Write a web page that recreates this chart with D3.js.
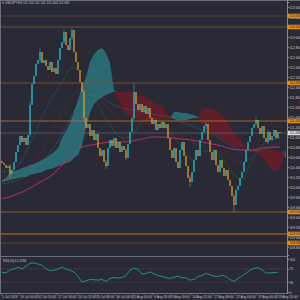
<!DOCTYPE html>
<html>
<head>
<meta charset="utf-8">
<script src="https://cdnjs.cloudflare.com/ajax/libs/d3/7.8.5/d3.min.js"></script>
<style>
body { margin: 0; background: #2a2a36; }
svg { display: block; }
text { font-family: "Liberation Sans", "DejaVu Sans", sans-serif; }
</style>
</head>
<body>
<div id="chart"></div>
<script>
// USDJPY H4 closes
const closes = [
	110.48, 110.44, 110.38, 110.42, 110.26, 110.34, 110.50, 110.70, 110.84, 111.02,
	110.90, 110.98, 110.84, 111.04, 111.64, 112.06, 112.22, 112.46, 112.54, 112.70,
	112.48, 112.54, 112.42, 112.34, 112.50, 112.30, 112.38, 112.26, 112.54, 112.78,
	112.90, 113.10, 112.84, 112.74, 112.98, 113.14, 112.70, 112.50, 112.34, 112.10,
	111.90, 111.38, 111.18, 111.26, 111.02, 111.14, 110.94, 111.06, 110.78, 110.62,
	110.74, 110.50, 110.42, 110.78, 110.94, 110.82, 110.98, 110.78, 110.90, 110.70,
	110.82, 110.74, 110.58, 110.86, 111.10, 111.38, 111.90, 111.66, 111.54, 111.66,
	111.50, 111.62, 111.46, 111.58, 111.38, 111.26, 111.34, 111.14, 111.26, 111.18,
	111.30, 111.18, 111.26, 110.98, 110.74, 110.58, 110.78, 110.50, 110.38, 110.74,
	110.90, 110.62, 110.42, 110.18, 110.10, 110.30, 110.54, 110.74, 110.62, 110.94,
	111.10, 111.22, 111.26, 110.94, 110.70, 110.54, 110.74, 110.44, 110.30, 110.54,
	110.38, 110.22, 110.34, 110.14, 110.02, 109.82, 109.64, 109.94, 110.02, 110.18,
	110.30, 110.50, 110.74, 110.90, 111.02, 111.18, 111.26, 111.34, 111.18, 111.06,
	111.22, 110.98, 110.90, 111.10, 110.94, 111.02, 111.14, 110.98, 111.10, 111.08
];
const firstOpen = 110.52;

// candles with visible wicks: [candle, high, low]
const wicks = [
	[4, 110.46, 110.18], [14, 111.70, 111.00], [19, 112.78, 112.50], [31, 113.16, 112.86],
	[35, 113.18, 112.94], [41, 111.96, 111.30], [52, 110.54, 110.36], [62, 110.78, 110.54],
	[66, 112.08, 111.34], [94, 110.24, 110.00], [102, 111.30, 111.16], [116, 109.86, 109.50],
	[127, 111.40, 111.22], [133, 111.14, 110.86]
];

// ichimoku cloud, one point every second candle (candle 0 .. 142)
const spanA = [
	110.14, 110.18, 110.30, 110.32, 110.34, 110.38, 110.40, 110.44, 110.46, 110.50,
	110.54, 110.58, 110.64, 110.70, 110.78, 110.98, 111.12, 111.28, 111.50, 111.74,
	112.00, 112.20, 112.50, 112.66, 112.74, 112.78, 112.68, 112.48, 111.94, 111.74,
	111.58, 111.46, 111.40, 111.36, 111.34, 111.34, 111.32, 111.30, 111.30, 111.30,
	111.30, 111.32, 111.38, 111.50, 111.50, 111.48, 111.48, 111.46, 111.44, 111.40,
	111.24, 111.18, 111.12, 111.06, 111.00, 110.96, 110.92, 110.86, 110.82, 110.80,
	110.78, 110.76, 110.74, 110.72, 110.68, 110.60, 110.50, 110.40, 110.30, 110.34,
	110.50, 110.74
];
const spanB = [
	110.10, 110.12, 110.14, 110.16, 110.18, 110.20, 110.20, 110.24, 110.26, 110.28,
	110.30, 110.34, 110.36, 110.38, 110.42, 110.44, 110.48, 110.50, 110.58, 110.64,
	110.84, 111.18, 111.48, 111.66, 111.74, 111.80, 111.84, 111.88, 111.90, 111.90,
	111.90, 111.90, 111.90, 111.88, 111.84, 111.82, 111.80, 111.74, 111.68, 111.64,
	111.60, 111.50, 111.40, 111.36, 111.34, 111.34, 111.34, 111.36, 111.38, 111.38,
	111.54, 111.58, 111.58, 111.54, 111.50, 111.42, 111.34, 111.22, 111.10, 111.00,
	110.90, 110.82, 110.76, 110.74, 110.74, 110.74, 110.74, 110.74, 110.74, 110.72,
	110.70, 110.58
];

// moving averages, sampled at these candles
const maIdx = [0, 5, 10, 15, 20, 25, 30, 35, 40, 45, 50, 55, 60, 65, 70, 75, 80, 85, 90, 95, 100, 105, 110, 115, 120, 125, 130, 135, 139];
const maFast = [110.30, 110.34, 110.54, 110.94, 111.38, 111.78, 112.10, 112.38, 112.30, 111.90, 111.50, 111.18, 110.98, 111.04, 111.30, 111.38, 111.26, 111.04, 110.78, 110.54, 110.70, 110.74, 110.58, 110.30, 110.14, 110.54, 110.84, 110.94, 110.98];
const maMid = [110.18, 110.22, 110.30, 110.44, 110.74, 111.14, 111.50, 111.80, 111.98, 111.90, 111.70, 111.50, 111.30, 111.24, 111.26, 111.26, 111.22, 111.14, 111.02, 110.90, 110.82, 110.78, 110.70, 110.58, 110.50, 110.58, 110.74, 110.84, 110.88];
const maSlow = [110.06, 110.10, 110.18, 110.30, 110.50, 110.74, 111.04, 111.44, 111.74, 111.84, 111.78, 111.66, 111.58, 111.54, 111.50, 111.46, 111.42, 111.38, 111.30, 111.22, 111.14, 111.06, 110.94, 110.82, 110.74, 110.72, 110.74, 110.78, 110.80];
const maLong = [109.76, 109.82, 109.90, 110.00, 110.12, 110.24, 110.44, 110.62, 110.80, 110.84, 110.88, 110.90, 110.90, 110.92, 110.96, 111.00, 111.00, 110.98, 110.96, 110.94, 110.90, 110.86, 110.82, 110.76, 110.74, 110.74, 110.78, 110.80, 110.80];

// RSI(14), every second candle
const rsi = [
	59, 58, 66.7, 70, 75, 70, 78, 87, 88, 85,
	82, 70, 64.5, 66, 70, 75, 70, 66, 60, 48,
	30, 34, 38, 37, 36, 38, 32, 41, 44, 42,
	44, 50, 66, 72, 69, 54, 56, 61, 55, 50,
	47, 44, 41, 45, 48, 43, 43, 36, 38, 47,
	50, 57, 52, 48, 47, 51, 47, 38, 32, 41,
	49, 57, 66, 72, 74, 67, 57, 58, 59, 60
];

// horizontal levels and last price
const levels = [113.42, 113.20, 112.08, 111.32, 109.50, 109.06, 108.88];
const lastPrice = 111.08;

const priceTicks = [113.6, 113.4, 113.2, 113.0, 112.8, 112.6, 112.4, 112.2, 112.0, 111.8, 111.6, 111.4, 111.2, 111.0, 110.8, 110.6, 110.4, 110.2, 110.0, 109.8, 109.6, 109.4, 109.2, 109.0, 108.8];
const rsiTicks = [100, 70, 30, 0];

const timeIdx = [0, 9, 18, 28, 38, 47, 57, 66, 76, 85, 95, 106, 117, 128, 138];
const timeLabels = ["5 Jul 2018", "10 Jul 00:00", "12 Jul 20:00", "17 Jul 16:00", "20 Jul 12:00", "25 Jul 08:00", "30 Jul 04:00", "2 Aug 00:00", "6 Aug 20:00", "9 Aug 16:00", "14 Aug 12:00", "17 Aug 08:00", "22 Aug 04:00", "27 Aug 00:00", "29 Aug 20:00"];

const header = "USDJPY,H4  111.116 111.141 111.064 111.082";
const rsiTitle = "RSI(14) 61.2768";


// LAYOUT
const W = 300, H = 300;
const left = 1, right = 287;
const mainTop = 2, mainBottom = 255;
const rsiTop = 259, rsiBottom = 292;

const svg = d3.select("#chart").append("svg")
	.attr("width", W)
	.attr("height", H);

svg.append("rect")
	.attr("width", W)
	.attr("height", H)
	.attr("fill", "#2a2a36");

const x = d3.scaleLinear().domain([0, 139]).range([2, 280]);
const y = d3.scaleLinear().domain([108.64, 113.70]).range([mainBottom, mainTop]);
const yr = d3.scaleLinear().domain([0, 100]).range([rsiBottom, rsiTop]);

const defs = svg.append("defs");
defs.append("clipPath").attr("id", "mainClip")
	.append("rect")
	.attr("x", left).attr("y", mainTop)
	.attr("width", right - left).attr("height", mainBottom - mainTop);

const main = svg.append("g").attr("clip-path", "url(#mainClip)");


// CLOUD
const cloud = spanA.map((a, k) => ({ i: k * 2, a: a, b: spanB[k] }));

main.append("path")
	.datum(cloud)
	.attr("fill", "#2c767c")
	.attr("opacity", 0.85)
	.attr("d", d3.area()
		.x(d => x(d.i))
		.y0(d => y(d.b))
		.y1(d => y(Math.max(d.a, d.b))));

main.append("path")
	.datum(cloud)
	.attr("fill", "#661d2a")
	.attr("opacity", 0.9)
	.attr("d", d3.area()
		.x(d => x(d.i))
		.y0(d => y(d.a))
		.y1(d => y(Math.max(d.a, d.b))));


// LEVELS
const levelColors = ["#5a4432", "#74533a", "#7a5632", "#b06f22", "#94652c", "#bf7a22", "#66492f"];

main.selectAll("line.level")
	.data(levels)
	.enter()
	.append("line")
	.attr("class", "level")
	.attr("x1", left).attr("x2", right)
	.attr("y1", d => y(d)).attr("y2", d => y(d))
	.attr("stroke", (d, i) => levelColors[i])
	.attr("stroke-width", 0.9);

main.append("line")
	.attr("x1", left).attr("x2", right)
	.attr("y1", y(lastPrice)).attr("y2", y(lastPrice))
	.attr("stroke", "#5e5e6c")
	.attr("stroke-width", 0.8);


// MOVING AVERAGES
function maLine(values, color, dash, width) {
	main.append("path")
		.datum(values)
		.attr("fill", "none")
		.attr("stroke", color)
		.attr("stroke-width", width)
		.attr("stroke-dasharray", dash)
		.attr("d", d3.line()
			.x((d, k) => x(maIdx[k]))
			.y(d => y(d))
			.curve(d3.curveMonotoneX));
}

maLine(maSlow, "#2a8c8c", "1,1", 0.6);
maLine(maMid, "#8c2c30", "1,1", 0.6);
maLine(maFast, "#2f8a3c", "1,1", 0.6);
maLine(maLong, "#c02c74", null, 0.9);


// CANDLES
const candles = closes.map((c, i) => {
	const o = i === 0 ? firstOpen : closes[i - 1];
	let hi = Math.max(o, c), lo = Math.min(o, c);
	const w = wicks.find(e => e[0] === i);
	if (w) {
		hi = Math.max(hi, w[1]);
		lo = Math.min(lo, w[2]);
	}
	return { i: i, o: o, c: c, hi: hi, lo: lo };
});

const candle = main.selectAll("g.candle")
	.data(candles)
	.enter()
	.append("g")
	.attr("class", "candle");

candle.append("line")
	.attr("x1", d => x(d.i)).attr("x2", d => x(d.i))
	.attr("y1", d => y(d.hi)).attr("y2", d => y(d.lo))
	.attr("stroke", d => d.c >= d.o ? "#22c4d4" : "#e09a2a")
	.attr("stroke-width", 0.5);

candle.append("rect")
	.attr("x", d => x(d.i) - 0.55)
	.attr("y", d => y(Math.max(d.o, d.c)))
	.attr("width", 1.1)
	.attr("height", d => Math.max(1, Math.abs(y(d.o) - y(d.c))))
	.attr("fill", d => d.c >= d.o ? "#22c4d4" : "#e09a2a");


// RSI
svg.selectAll("line.rsiLevel")
	.data([70, 30])
	.enter()
	.append("line")
	.attr("class", "rsiLevel")
	.attr("x1", left).attr("x2", right)
	.attr("y1", d => yr(d)).attr("y2", d => yr(d))
	.attr("stroke", "#5c5c6a")
	.attr("stroke-width", 0.6)
	.attr("stroke-dasharray", "1,1");

svg.append("path")
	.datum(rsi)
	.attr("fill", "none")
	.attr("stroke", "#27a3a6")
	.attr("stroke-width", 0.8)
	.attr("d", d3.line()
		.x((d, k) => x(k * 2))
		.y(d => yr(d)));


// FRAME
const frame = "#6c6c7a";
svg.append("line").attr("x1", 0).attr("x2", W).attr("y1", 0.5).attr("y2", 0.5).attr("stroke", frame);
svg.append("line").attr("x1", 0.5).attr("x2", 0.5).attr("y1", 0).attr("y2", 293).attr("stroke", frame);
svg.append("line").attr("x1", 0).attr("x2", right).attr("y1", 256.5).attr("y2", 256.5).attr("stroke", frame);
svg.append("line").attr("x1", 0).attr("x2", right).attr("y1", 293.5).attr("y2", 293.5).attr("stroke", frame);


// PRICE AXIS
const yAxis = d3.axisRight(y)
	.tickValues(priceTicks)
	.tickSize(2)
	.tickFormat(d3.format(".3f"));

const ya = svg.append("g")
	.attr("transform", `translate(${right}, 0)`)
	.call(yAxis);
ya.select(".domain").attr("stroke", "#8a8a98");
ya.selectAll(".tick line").attr("stroke", "#8a8a98");
ya.selectAll("text")
	.attr("x", 2.5)
	.attr("fill", "#c4c4cc")
	.attr("font-size", 3.3);

const rAxis = d3.axisRight(yr)
	.tickValues(rsiTicks)
	.tickSize(2)
	.tickFormat(d3.format("d"));

const ra = svg.append("g")
	.attr("transform", `translate(${right}, 0)`)
	.call(rAxis);
ra.select(".domain").remove();
ra.selectAll(".tick line").attr("stroke", "#8a8a98");
ra.selectAll("text")
	.attr("x", 2.5)
	.attr("fill", "#c4c4cc")
	.attr("font-size", 3.3);

svg.append("line")
	.attr("x1", right + 0.5).attr("x2", right + 0.5)
	.attr("y1", 0).attr("y2", 294)
	.attr("stroke", "#8a8a98");

// level tags
const tag = svg.selectAll("g.tag")
	.data(levels)
	.enter()
	.append("g")
	.attr("class", "tag")
	.attr("transform", d => `translate(${right + 1}, ${y(d)})`);

tag.append("rect")
	.attr("x", 0).attr("y", -2.3)
	.attr("width", 13).attr("height", 4.6)
	.attr("fill", "#e08a1a");

tag.append("text")
	.attr("x", 1.5).attr("y", 1.2)
	.attr("font-size", 3.3)
	.attr("fill", "#2a2a36")
	.text(d => d3.format(".3f")(d));

const last = svg.append("g")
	.attr("transform", `translate(${right + 1}, ${y(lastPrice)})`);
last.append("rect")
	.attr("x", 0).attr("y", -2.3)
	.attr("width", 13).attr("height", 4.6)
	.attr("fill", "#dcdce0");
last.append("text")
	.attr("x", 1.5).attr("y", 1.2)
	.attr("font-size", 3.3)
	.attr("fill", "#2a2a36")
	.text(d3.format(".3f")(lastPrice));


// TIME AXIS
const xt = svg.selectAll("g.time")
	.data(timeIdx)
	.enter()
	.append("g")
	.attr("class", "time")
	.attr("transform", d => `translate(${x(d) - 1}, 293)`);

xt.append("line")
	.attr("y1", 0).attr("y2", 2.5)
	.attr("stroke", "#8a8a98")
	.attr("stroke-width", 0.6);

xt.append("text")
	.attr("x", 1.2).attr("y", 5.3)
	.attr("font-size", 3.3)
	.attr("fill", "#c4c4cc")
	.text((d, k) => timeLabels[k]);


// TITLES
svg.append("path")
	.attr("d", "M2,2.2 L4,2.2 L3,4 Z")
	.attr("fill", "#c4c4cc");

svg.append("text")
	.attr("x", 5).attr("y", 4.3)
	.attr("font-size", 3.2)
	.attr("fill", "#c4c4cc")
	.text(header);

svg.append("text")
	.attr("x", 3).attr("y", 261.5)
	.attr("font-size", 3.2)
	.attr("fill", "#c4c4cc")
	.text(rsiTitle);
</script>
</body>
</html>
